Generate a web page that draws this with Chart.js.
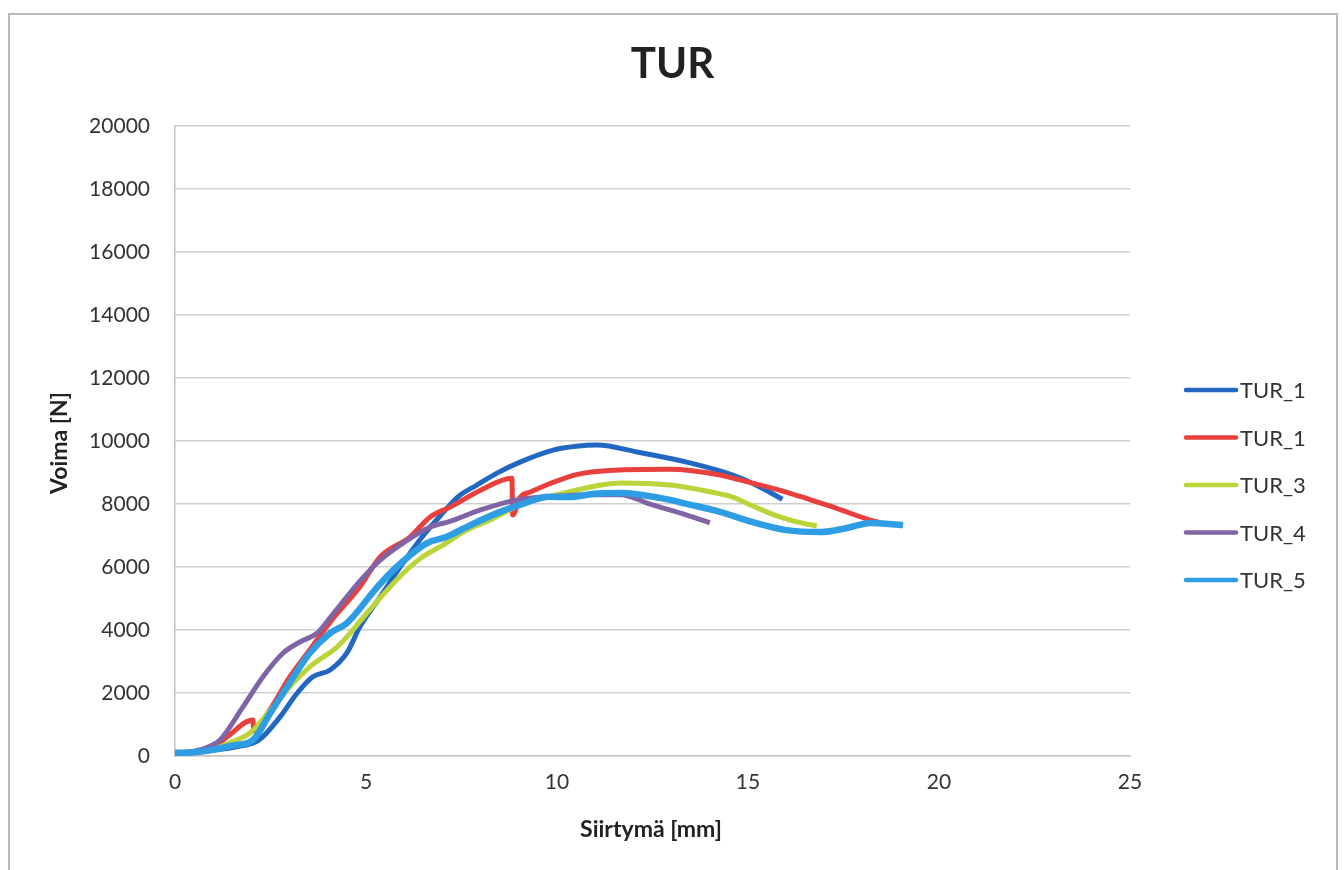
<!DOCTYPE html>
<html>
<head>
<meta charset="utf-8">
<script src="https://cdn.jsdelivr.net/npm/chart.js@4"></script>
<style>
  html, body { margin: 0; padding: 0; background: #fff; }
  #wrap { position: relative; width: 1344px; height: 870px; }
  #frame { position: absolute; left: 8px; top: 13px; width: 1330px; height: 880px; border: 2px solid #b8b8b8; box-sizing: border-box; }
  canvas { position: absolute; left: 0; top: 0; }
</style>
</head>
<body>
<div id="wrap">
  <div id="frame"></div>
  <canvas id="chart" width="1344" height="870"></canvas>
</div>
<script>
// Series labels and colours
const seriesNames = ['TUR_1', 'TUR_1', 'TUR_3', 'TUR_4', 'TUR_5'];
const seriesColors = ['#2268c2', '#e8403c', '#bad43a', '#8064a6', '#2e9de4'];

// Displacement [mm] / force [N]
const tur1X = [0, 0.5, 1.0, 1.6, 2.2, 2.75, 3.2, 3.6, 4.06, 4.5, 4.84, 5.4, 5.97, 6.5, 7.0, 7.4, 7.9, 8.43, 9.03, 9.9, 10.5, 11.05, 12.1, 13.4, 14.6, 15.3, 15.9];
const tur1Y = [100, 120, 180, 290, 510, 1240, 2000, 2510, 2730, 3270, 4100, 5100, 6130, 7000, 7700, 8220, 8600, 8980, 9330, 9710, 9830, 9870, 9650, 9330, 8920, 8550, 8150];

const tur1bX = [0, 0.6, 1.0, 1.36, 2.04, 2.06, 2.5, 3.0, 3.53, 4.06, 4.84, 5.37, 6.15, 6.68, 7.2, 8.0, 8.82, 8.84, 9.03, 9.3, 10.3, 10.7, 11.65, 12.96, 14.27, 14.6, 16.0, 17.3, 18.2, 18.4];
const tur1bY = [100, 150, 250, 600, 1140, 800, 1500, 2500, 3370, 4250, 5370, 6320, 6950, 7590, 7900, 8440, 8820, 7650, 8200, 8380, 8860, 8980, 9080, 9100, 8920, 8820, 8380, 7870, 7490, 7430];

const tur3X = [0, 0.5, 1.0, 1.5, 1.96, 2.5, 3.1, 3.53, 4.24, 4.5, 5.0, 5.8, 6.4, 7.1, 7.6, 8.25, 9.0, 10.3, 11.65, 12.96, 14.27, 14.6, 15.1, 15.7, 16.4, 16.8];
const tur3Y = [100, 130, 220, 450, 730, 1460, 2320, 2830, 3460, 3780, 4500, 5590, 6250, 6760, 7150, 7490, 7950, 8380, 8670, 8600, 8320, 8220, 7950, 7650, 7400, 7300];

const tur4X = [0, 0.5, 0.9, 1.18, 1.78, 2.3, 2.83, 3.27, 3.72, 4.1, 4.84, 5.37, 5.97, 6.68, 7.2, 8.0, 8.95, 10.0, 11.1, 11.65, 12.5, 13.4, 14.0];
const tur4Y = [100, 150, 300, 508, 1560, 2510, 3270, 3620, 3900, 4450, 5550, 6220, 6760, 7270, 7450, 7810, 8130, 8250, 8290, 8290, 7970, 7650, 7400];

const tur5X = [0, 0.5, 1.0, 1.5, 2.04, 2.5, 3.0, 3.53, 4.06, 4.5, 5.3, 5.8, 6.6, 7.1, 7.6, 8.43, 9.03, 9.8, 10.3, 11.05, 11.65, 12.96, 13.3, 14.27, 15.1, 16.0, 16.9, 17.6, 18.2, 19.06];
const tur5Y = [100, 120, 200, 330, 510, 1370, 2320, 3270, 3900, 4220, 5370, 6000, 6760, 6950, 7250, 7710, 7970, 8230, 8220, 8330, 8350, 8130, 8030, 7750, 7430, 7170, 7110, 7240, 7400, 7330];

// Axis ticks
const xTicks = [0, 5, 10, 15, 20, 25];
const yTicks = [0, 2000, 4000, 6000, 8000, 10000, 12000, 14000, 16000, 18000, 20000];

const allX = [tur1X, tur1bX, tur3X, tur4X, tur5X];
const allY = [tur1Y, tur1bY, tur3Y, tur4Y, tur5Y];
const lineWidths = [5, 5, 5, 5, 6.5];

const FONT = 'Lato, "Open Sans", sans-serif';

const datasets = seriesNames.map((name, i) => ({
  label: name,
  data: allX[i].map((x, k) => ({ x: x, y: allY[i][k] })),
  borderColor: seriesColors[i],
  backgroundColor: seriesColors[i],
  borderWidth: lineWidths[i],
  pointRadius: 0,
  showLine: true,
  cubicInterpolationMode: 'monotone',
  fill: false,
  order: seriesNames.length - i, // later series on top, like Excel
}));

// Title, axis titles and legend drawn on the canvas
const decorPlugin = {
  id: 'decor',
  afterDraw(chart) {
    const ctx = chart.ctx;
    const area = chart.chartArea;
    ctx.save();
    ctx.fillStyle = '#222';
    ctx.textAlign = 'center';
    ctx.textBaseline = 'middle';
    ctx.font = 'bold 42px ' + FONT;
    ctx.fillText('TUR', (area.left + area.right) / 2 + 20, 64);

    ctx.font = 'bold 23px ' + FONT;
    ctx.fillText('Siirtymä [mm]', 651, 830);
    ctx.save();
    ctx.translate(60, 443);
    ctx.rotate(-Math.PI / 2);
    ctx.fillText('Voima [N]', 0, 0);
    ctx.restore();

    // legend
    ctx.textAlign = 'left';
    ctx.font = '22px ' + FONT;
    ctx.lineCap = 'round';
    seriesNames.forEach((name, i) => {
      const y = 390 + i * 47.5;
      ctx.strokeStyle = seriesColors[i];
      ctx.lineWidth = 4.5;
      ctx.beginPath();
      ctx.moveTo(1186, y);
      ctx.lineTo(1236, y);
      ctx.stroke();
      ctx.fillStyle = '#333';
      ctx.fillText(name, 1240, y + 1);
    });
    ctx.restore();
  }
};

new Chart(document.getElementById('chart'), {
  type: 'scatter',
  data: { datasets: datasets },
  options: {
    responsive: false,
    animation: false,
    layout: { padding: { top: 126, right: 214, left: 0, bottom: 0 } },
    plugins: {
      legend: { display: false },
      tooltip: { enabled: false },
      title: { display: false },
    },
    scales: {
      x: {
        type: 'linear',
        min: 0,
        max: 25,
        afterBuildTicks: (s) => { s.ticks = xTicks.map(v => ({ value: v })); },
        afterFit: (s) => { s.height = 114; },
        grid: { display: false, drawTicks: false },
        border: { color: '#c4c4c4', width: 1.5 },
        ticks: { color: '#333', font: { family: FONT, size: 21 }, padding: 14, maxRotation: 0 },
      },
      y: {
        type: 'linear',
        min: 0,
        max: 20000,
        afterBuildTicks: (s) => { s.ticks = yTicks.map(v => ({ value: v })); },
        afterFit: (s) => { s.width = 175; },
        grid: { color: '#cfcfcf', lineWidth: 1.5, drawTicks: false },
        border: { color: '#c4c4c4', width: 1.5 },
        ticks: { color: '#333', font: { family: FONT, size: 21 }, padding: 25, callback: (v) => String(v) },
      },
    },
  },
  plugins: [decorPlugin],
});
</script>
</body>
</html>
